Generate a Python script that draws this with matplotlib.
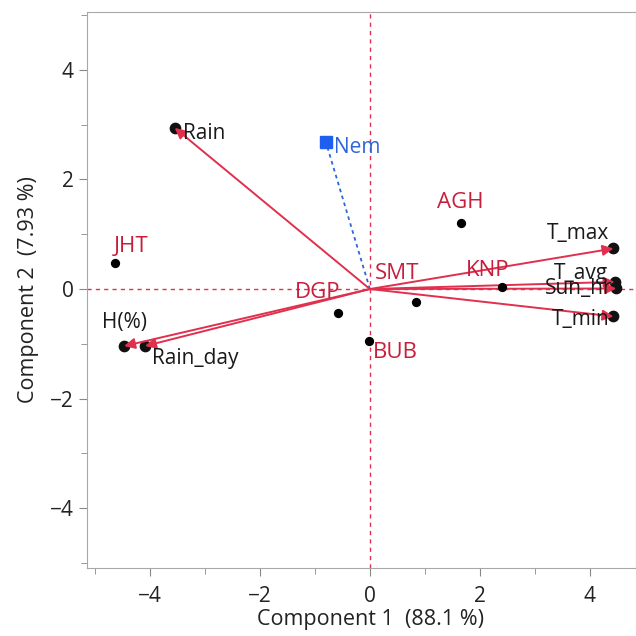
import matplotlib
matplotlib.use('Agg')
import matplotlib.pyplot as plt
from matplotlib.ticker import MultipleLocator

plt.rcParams['font.family'] = ['Open Sans', 'DejaVu Sans']

# Site scores (black dots)
sites = ['JHT', 'AGH', 'DGP', 'SMT', 'BUB', 'KNP']
site_x = [-4.64, 1.65, -0.58, 0.83, -0.02, 2.40]
site_y = [0.47, 1.20, -0.44, -0.24, -0.95, 0.04]

# Variable loadings (red arrows)
variables = ['Rain', 'H(%)', 'Rain_day', 'T_max', 'T_avg', 'Sun_hr', 'T_min']
load_x = [-3.55, -4.47, -4.09, 4.43, 4.45, 4.48, 4.43]
load_y = [2.94, -1.04, -1.04, 0.74, 0.13, 0.01, -0.50]

# Supplementary variable (blue)
supp_name = 'Nem'
supp_x = -0.80
supp_y = 2.68

red = '#E0304E'
lab_red = '#C81E3C'
blue = '#2F66D8'

fig = plt.figure(figsize=(6.36, 6.36), dpi=100)
ax = fig.add_axes([87 / 636, 1 - 568 / 636, 549 / 636, 556 / 636])
ax.set_xlim(-5.145, 4.84)
ax.set_ylim(-5.09, 5.055)

# reference lines through origin
ax.axhline(0, color=red, lw=1.0, ls=(0, (3, 3)), zorder=1)
ax.axvline(0, color=red, lw=1.0, ls=(0, (3, 3)), zorder=1)

# supplementary vector
ax.plot([0, supp_x], [0, supp_y], color=blue, lw=1.3, ls=(0, (2, 2)), zorder=2)
ax.plot(supp_x, supp_y, 's', color='#1E5FF0', ms=8, zorder=4)
ax.annotate(supp_name, (supp_x, supp_y), xytext=(6, -4), textcoords='offset points',
            color=blue, fontsize=15, va='center', ha='left')

# loadings: black dot + red arrow
ax.scatter(load_x, load_y, s=55, color='#111111', zorder=3)
for vx, vy in zip(load_x, load_y):
    ax.annotate('', xy=(vx, vy), xytext=(0, 0),
                arrowprops=dict(arrowstyle='-|>', color=red, lw=1.4,
                                mutation_scale=16, shrinkA=0, shrinkB=0),
                zorder=4)

# loading label offsets (points)
load_off = {'Rain': (6, -4, 'left'), 'H(%)': (0, 17, 'center'),
            'Rain_day': (5, -9, 'left'), 'T_max': (-3, 11, 'right'),
            'T_avg': (-5, 6, 'right'), 'Sun_hr': (-3, 0, 'right'),
            'T_min': (-3, -2, 'right')}
for name, vx, vy in zip(variables, load_x, load_y):
    dx, dy, ha = load_off[name]
    ax.annotate(name, (vx, vy), xytext=(dx, dy), textcoords='offset points',
                fontsize=15, color='#1A1A1A', ha=ha, va='center', zorder=5)

# site scores
ax.scatter(site_x, site_y, s=32, color='black', zorder=5)
site_off = {'JHT': (12, 12), 'AGH': (0, 15), 'DGP': (-15, 15), 'SMT': (-13, 21),
            'BUB': (19, -8), 'KNP': (-10, 12)}
for name, sx, sy in zip(sites, site_x, site_y):
    dx, dy = site_off[name]
    ax.annotate(name, (sx, sy), xytext=(dx, dy), textcoords='offset points',
                fontsize=16, color=lab_red, ha='center', va='center', zorder=5)

ax.xaxis.set_major_locator(MultipleLocator(2))
ax.xaxis.set_minor_locator(MultipleLocator(1))
ax.yaxis.set_major_locator(MultipleLocator(2))
ax.yaxis.set_minor_locator(MultipleLocator(1))
ax.tick_params(which='both', colors='#888888', labelcolor='#222222', labelsize=15)
ax.tick_params(which='major', length=6)
ax.tick_params(which='minor', length=4)
ax.tick_params(axis='x', which='major', pad=7)
for sp in ax.spines.values():
    sp.set_color('#A8A8A8')

ax.set_xlabel('Component 1  (88.1 %)', fontsize=15.5, color='#222222')
ax.xaxis.set_label_coords(0.517, -0.092, transform=ax.transAxes)
ax.xaxis.label.set_va('center')
ax.set_ylabel('Component 2  (7.93 %)', fontsize=15.5, color='#222222', labelpad=8)

fig.savefig('out.png', dpi=100)
